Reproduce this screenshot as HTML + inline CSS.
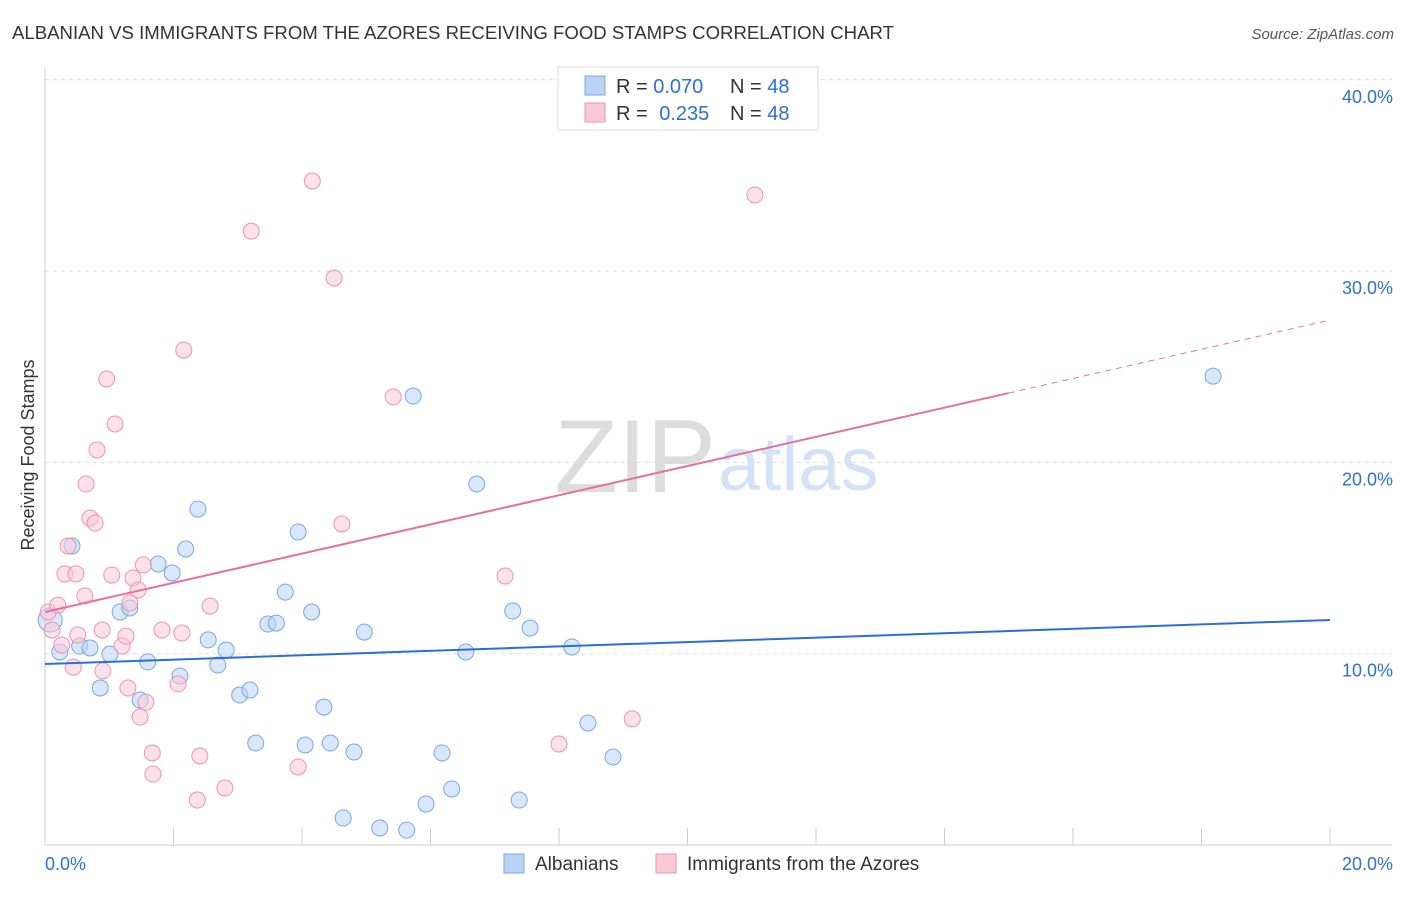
<!DOCTYPE html>
<html><head><meta charset="utf-8"><style>
body{margin:0;background:#fff;font-family:"Liberation Sans",sans-serif;}
svg text{font-family:"Liberation Sans",sans-serif;}
</style></head><body>
<svg id="chart" width="1406" height="892">
<text x="12" y="39" font-size="18.6" fill="#333">ALBANIAN VS IMMIGRANTS FROM THE AZORES RECEIVING FOOD STAMPS CORRELATION CHART</text>
<text x="1394" y="39" font-size="15" fill="#555" font-style="italic" text-anchor="end">Source: ZipAtlas.com</text>
<g id="grid"></g>
<text x="716" y="492" font-size="104" fill="#ddd" text-anchor="end" font-family="Liberation Serif">ZIP</text>
<text x="718" y="490" font-size="76" fill="#d3e2f4">atlas</text>
<text transform="translate(34,455) rotate(-90)" font-size="18" fill="#333" text-anchor="middle">Receiving Food Stamps</text>
<g id="marks"></g>
<g>
<rect x="558" y="67" width="260" height="63" fill="#fff" stroke="#ddd"/>
<rect x="585" y="76" width="20" height="19" fill="#b9d3f5" stroke="#7aa7e0"/>
<rect x="585" y="103" width="20" height="19" fill="#f9c9d8" stroke="#eb94b0"/>
<text x="616" y="93" font-size="20" fill="#333">R = <tspan fill="#2e6fd0">0.070</tspan></text>
<text x="730" y="93" font-size="20" fill="#333">N = <tspan fill="#2e6fd0">48</tspan></text>
<text x="616" y="120" font-size="20" fill="#333">R = <tspan fill="#2e6fd0" dx="6">0.235</tspan></text>
<text x="730" y="120" font-size="20" fill="#333">N = <tspan fill="#2e6fd0">48</tspan></text>
</g>
<g>
<rect x="504" y="854" width="20" height="19" fill="#b9d3f5" stroke="#7aa7e0"/>
<text x="535" y="870" font-size="19" fill="#333">Albanians</text>
<rect x="656" y="854" width="20" height="19" fill="#f9c9d8" stroke="#eb94b0"/>
<text x="687" y="870" font-size="19" fill="#333">Immigrants from the Azores</text>
</g>
</svg>
<script>
const blueX=[0.08,0.23,0.42,0.54,0.70,0.86,1.01,1.17,1.32,1.48,1.60,1.76,1.98,2.10,2.19,2.38,2.54,2.69,2.82,3.03,3.19,3.28,3.47,3.60,3.74,3.94,4.05,4.15,4.34,4.44,4.64,4.81,4.97,5.21,5.63,5.73,5.93,6.18,6.33,6.55,6.72,7.28,7.38,7.55,8.20,8.45,8.84,18.18];
const blueY=[11.76,10.09,15.63,10.40,10.30,8.21,9.98,12.18,12.39,7.58,9.57,14.69,14.22,8.83,15.47,17.56,10.72,9.41,10.19,7.84,8.10,5.33,11.55,11.60,13.22,16.36,5.23,12.18,7.21,5.33,1.41,4.86,11.13,0.89,0.78,23.47,2.14,4.81,2.93,10.09,18.87,12.23,2.35,11.34,10.35,6.38,4.60,24.51];
const pinkX=[0.05,0.11,0.20,0.26,0.31,0.36,0.44,0.48,0.51,0.62,0.64,0.70,0.78,0.81,0.89,0.90,0.96,1.04,1.09,1.20,1.26,1.29,1.37,1.45,1.48,1.53,1.57,1.67,1.68,1.82,2.07,2.13,2.16,2.37,2.41,2.57,2.80,3.21,3.94,4.16,4.50,4.62,5.42,7.16,8.00,9.14,11.05,1.32];
const pinkY=[12.18,11.24,12.54,10.45,14.17,15.63,9.30,14.17,10.98,13.02,18.87,17.09,16.83,20.65,11.24,9.10,24.36,14.11,22.01,10.40,10.92,8.21,13.96,13.33,6.69,14.64,7.47,4.81,3.71,11.24,8.42,11.08,25.87,2.35,4.65,12.49,2.98,32.09,4.08,34.71,29.64,16.78,23.42,14.06,5.28,6.59,33.98,12.65];
const blueLine=[9.46,11.76];
const pinkLine=[12.18,27.44];
const pinkSolidEnd=15.0;
const yTicks=[10,20,30,40];
const xTicks=[0,2,4,6,8,10,12,14,16,18,20];
const NS="http://www.w3.org/2000/svg";
const sx=v=>45+v/20*1285;
const sy=v=>845-v*19.13;
function mk(tag,attrs,parent){const e=document.createElementNS(NS,tag);for(const k in attrs)e.setAttribute(k,attrs[k]);parent.appendChild(e);return e;}
const grid=document.getElementById('grid'),marks=document.getElementById('marks');
yTicks.forEach(t=>{
 const l=mk('line',{x1:45,x2:1392,y1:sy(t),y2:sy(t),stroke:'#ddd','stroke-dasharray':'4,4'},grid);
 
 
 const tx=mk('text',{x:1393,y:sy(t)+23,'font-size':18,fill:'#2e6fd0','text-anchor':'end'},grid);
 tx.textContent=t.toFixed(1)+'%';
 
 
});
mk('line',{x1:45,x2:45,y1:68,y2:845,stroke:'#ccc'},grid);
mk('line',{x1:45,x2:1392,y1:845,y2:845,stroke:'#ccc'},grid);
xTicks.forEach(t=>{
 const l=mk('line',{x1:sx(t),x2:sx(t),y1:828,y2:845,stroke:'#ccc'},grid);
 
 
});
[[0,'start',45],[20,'end',1393]].forEach(([t,a,x])=>{
 const tx=mk('text',{x:x,y:870,'font-size':18,fill:'#2e6fd0','text-anchor':a},grid);
 tx.textContent=t.toFixed(1)+'%';
 
 
});
function pts(X,Y,fill,stroke,name){X.forEach((x,i)=>{
 const c=mk('circle',{cx:sx(x),cy:sy(Y[i]),r:i===0&&name==='albanian-point'?12:8,fill:fill,stroke:stroke,'stroke-width':1,'fill-opacity':0.55},marks);
 
 
});}
pts(blueX,blueY,'#b9d3f5','#7aa7e0','albanian-point');
pts(pinkX,pinkY,'#f9c9d8','#eb94b0','azores-point');
const bl=mk('line',{x1:sx(0),y1:sy(blueLine[0]),x2:sx(20),y2:sy(blueLine[1]),stroke:'#2a6fd6','stroke-width':2},marks);


const pAt=x=>pinkLine[0]+(pinkLine[1]-pinkLine[0])*x/20;
const pl=mk('line',{x1:sx(0),y1:sy(pAt(0)),x2:sx(pinkSolidEnd),y2:sy(pAt(pinkSolidEnd)),stroke:'#e5709a','stroke-width':2},marks);


const pd=mk('line',{x1:sx(pinkSolidEnd),y1:sy(pAt(pinkSolidEnd)),x2:sx(20),y2:sy(pAt(20)),stroke:'#e5709a','stroke-width':1,'stroke-dasharray':'6,5'},marks);


</script>
</body></html>
